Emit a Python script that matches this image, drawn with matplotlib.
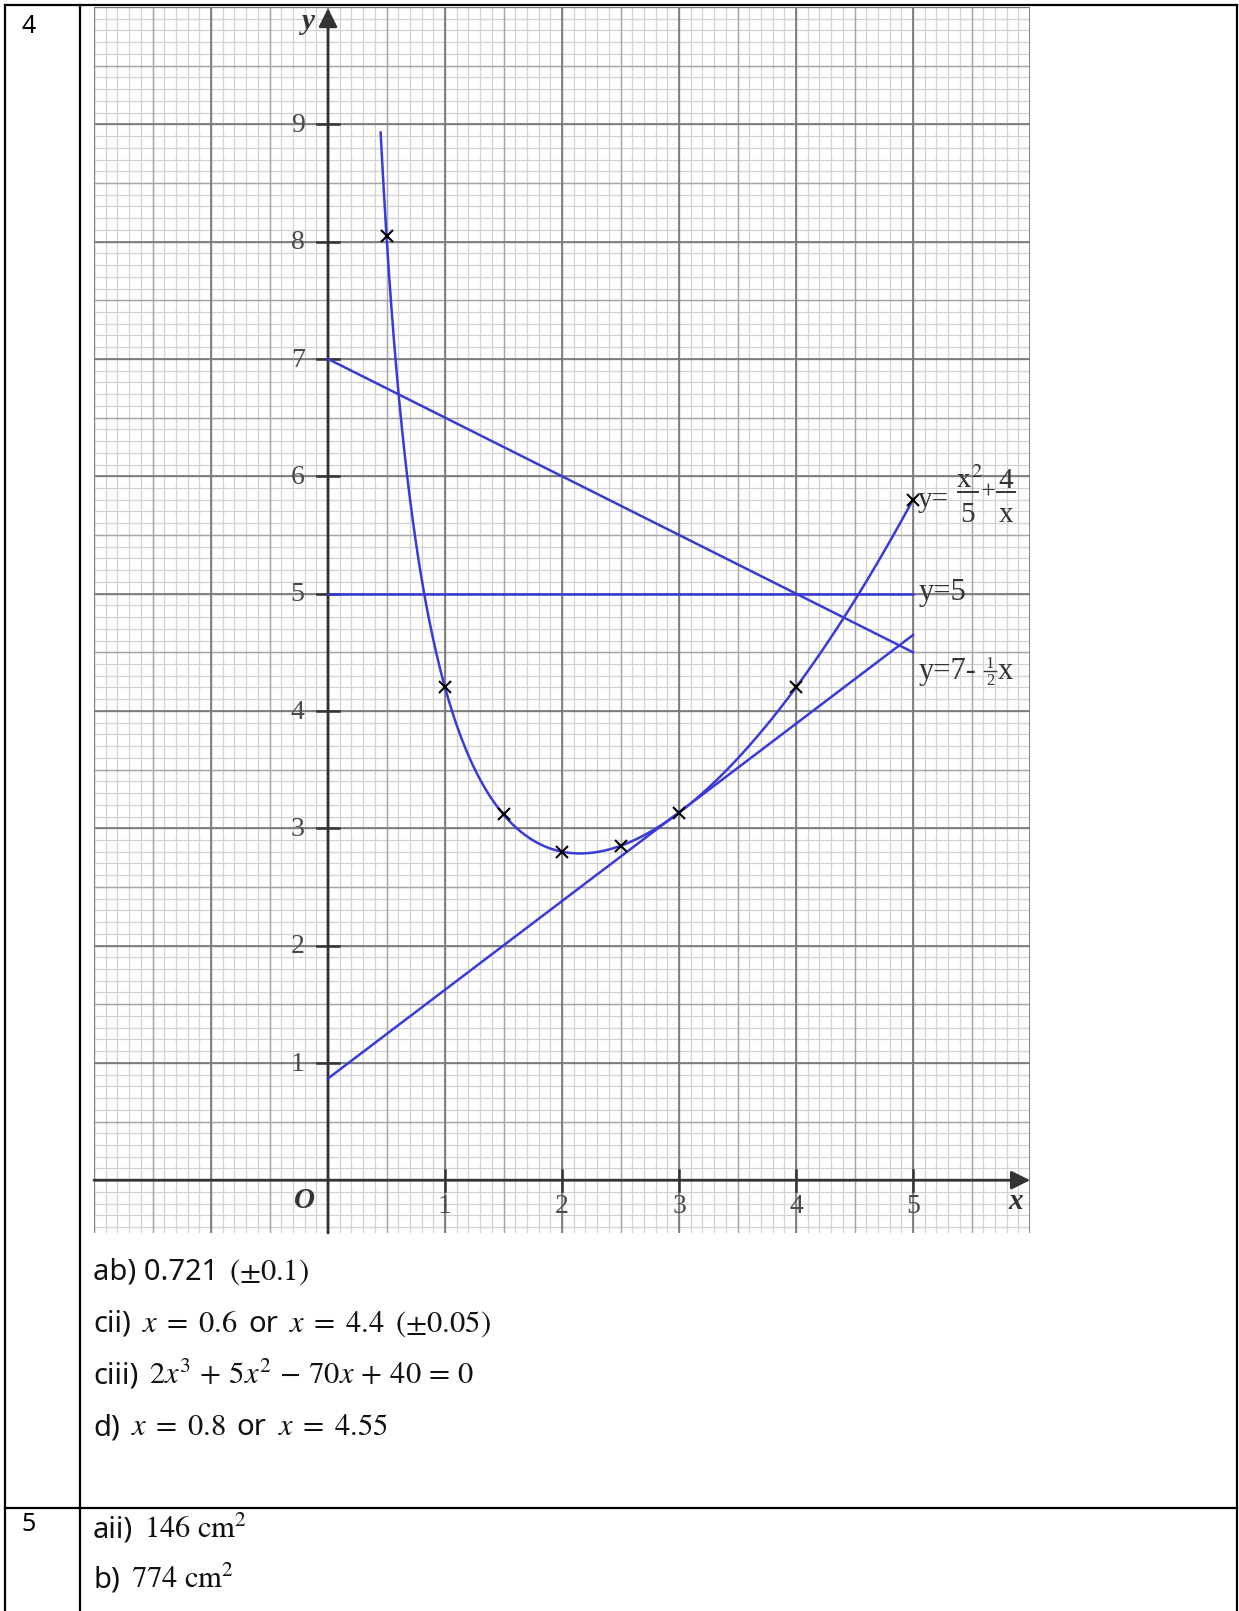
import numpy as np
import matplotlib.pyplot as plt

plt.rcParams['mathtext.fontset'] = 'stix'
plt.rcParams['font.family'] = ['Noto Sans', 'DejaVu Sans']

# plotted points of y = x^2/5 + 4/x (table of values)
pts_x = [0.5, 1, 1.5, 2, 2.5, 3, 4, 5]
pts_y = [8.05, 4.2, 3.12, 2.8, 2.85, 3.13, 4.2, 5.8]

# curve y = a*x^2 + b/x, drawn from x_start to 5
curve_a = 1 / 5
curve_b = 4
curve_x_start = 0.45

# straight lines y = m*x + c, drawn from x = 0 to 5
line_m = [0, -0.5, 0.756]
line_c = [5, 7, 0.867]
line_end = 5

x_ticks = [1, 2, 3, 4, 5]
y_ticks = [1, 2, 3, 4, 5, 6, 7, 8, 9]

# answer lines, as text segments (plain text / maths)
answers_q4 = [
    ['ab) 0.721', r'$(\pm0.1)$'],
    ['cii)', r'$x\;=\;0.6$', 'or', r'$x\;=\;4.4\;\;(\pm0.05)$'],
    ['ciii)', r'$2x^3\,+\,5x^2\,-\,70x\,+\,40\,=\,0$'],
    ['d)', r'$x\;=\;0.8$', 'or', r'$x\;=\;4.55$'],
]
answers_q5 = [
    ['aii)', r'$146\ \mathrm{cm}^2$'],
    ['b)', r'$774\ \mathrm{cm}^2$'],
]
q4_baselines = [1280, 1332, 1384, 1435]
q5_baselines = [1538, 1588]

W, H = 1239, 1611
fig = plt.figure(figsize=(W / 100, H / 100), dpi=100)
renderer = fig.canvas.get_renderer()

# page / table layer in pixel coords
bg = fig.add_axes([0, 0, 1, 1])
bg.set_xlim(0, W)
bg.set_ylim(H, 0)
bg.axis('off')
tk = dict(color='black', lw=1.6)
bg.plot([5, 5], [5, H], **tk)
bg.plot([1237, 1237], [5, H], **tk)
bg.plot([80, 80], [5, H], **tk)
bg.plot([5, 1237], [5, 5], **tk)
bg.plot([5, 1237], [1508, 1508], **tk)
bg.text(21, 33, '4', fontsize=18, va='baseline')
bg.text(21, 1531, '5', fontsize=18, va='baseline')

for lines, bases in [(answers_q4, q4_baselines), (answers_q5, q5_baselines)]:
    for segs, yb in zip(lines, bases):
        xp = 93
        for s in segs:
            fs = 22 if s.startswith('$') else 21
            t = bg.text(xp, yb, s, fontsize=fs, va='baseline', color='#111111')
            xp += t.get_window_extent(renderer).width + 11

# graph paper
x0, x1, y0, y1 = -2, 6, -0.45, 10
ax = fig.add_axes([94 / W, 1 - 1233 / H, (1030 - 94) / W, (1233 - 7) / H])
ax.set_xlim(x0, x1)
ax.set_ylim(y0, y1)
ax.axis('off')

fine_x = np.arange(-20, 61) / 10
fine_y = np.arange(-4, 101) / 10
ax.vlines(fine_x, y0, y1, color='#d2d2d2', lw=0.9, zorder=1)
ax.hlines(fine_y, x0, x1, color='#d2d2d2', lw=0.9, zorder=1)
ax.vlines(np.arange(-4, 13) / 2, y0, y1, color='#a6a6a6', lw=1.0, zorder=1)
ax.hlines(np.arange(0, 21) / 2, x0, x1, color='#a6a6a6', lw=1.0, zorder=1)
ax.vlines(np.arange(-2, 7), y0, y1, color='#767676', lw=1.2, zorder=1)
ax.hlines(np.arange(0, 11), x0, x1, color='#767676', lw=1.2, zorder=1)

# axes with arrows
axc = '#333333'
ax.annotate('', xy=(0, 9.99), xytext=(0, y0),
            arrowprops=dict(arrowstyle='-|>', lw=2, color=axc, mutation_scale=28,
                            shrinkA=0, shrinkB=0), zorder=3)
ax.annotate('', xy=(6, 0), xytext=(x0, 0),
            arrowprops=dict(arrowstyle='-|>', lw=2, color=axc, mutation_scale=28,
                            shrinkA=0, shrinkB=0), zorder=3)
for t in y_ticks:
    ax.plot([-0.09, 0.09], [t, t], color=axc, lw=1.8, zorder=3)
    ax.text(-0.2, t - 0.01, str(t), fontsize=20, family='Liberation Serif',
            color='#4a4a4a', ha='right', va='center', zorder=6)
for t in x_ticks:
    ax.plot([t, t], [-0.09, 0.09], color=axc, lw=1.8, zorder=3)
    ax.text(t, -0.22, str(t), fontsize=20, family='Liberation Serif',
            color='#4a4a4a', ha='center', va='center', zorder=6)
ax.text(-0.2, -0.17, 'O', fontsize=21, family='Liberation Serif', style='italic',
        weight='bold', color='#333333', ha='center', va='center')
ax.text(-0.17, 9.88, 'y', fontsize=21, family='Liberation Serif', style='italic',
        weight='bold', color='#333333', ha='center', va='center')
ax.text(5.88, -0.18, 'x', fontsize=21, family='Liberation Serif', style='italic',
        weight='bold', color='#333333', ha='center', va='center')

blue = '#3a3ad8'
cx = np.linspace(curve_x_start, 5, 400)
ax.plot(cx, curve_a * cx ** 2 + curve_b / cx, color=blue, lw=1.8, zorder=4)
for m, c in zip(line_m, line_c):
    ax.plot([0, line_end], [c, m * line_end + c], color=blue, lw=1.8, zorder=4)
ax.plot(pts_x, pts_y, 'x', color='black', ms=8, mew=1.5, zorder=5)

# equation labels (placed in page pixels, drawn above the grid)
lab = dict(fontsize=22, color='#333333', family='Liberation Serif',
           transform=bg.transData, zorder=6)
frac = dict(fontsize=21, color='#333333', family='Liberation Serif',
            transform=bg.transData, zorder=6)
small = dict(color='#333333', family='Liberation Serif',
             transform=bg.transData, zorder=6)
bar = dict(color='#333333', lw=1.4, transform=bg.transData, zorder=6)
ax.text(918, 507, 'y=', ha='left', va='baseline', fontsize=21, color='#333333',
        family='Liberation Serif', transform=bg.transData, zorder=6)
ax.text(969, 488, r'$\mathrm{x^2}$', ha='center', va='baseline', **frac)
ax.plot([958, 978], [492, 492], **bar)
ax.text(968, 522, '5', ha='center', va='baseline', **frac)
ax.text(988, 499, '+', ha='center', va='baseline', fontsize=19, color='#333333',
        family='Liberation Serif', transform=bg.transData, zorder=6)
ax.text(1006, 488, '4', ha='center', va='baseline', **frac)
ax.plot([997, 1015], [492, 492], **bar)
ax.text(1006, 522, 'x', ha='center', va='baseline', **frac)
ax.text(919, 600, 'y=5', ha='left', va='baseline', **lab)
ax.text(919, 679, 'y=7-', ha='left', va='baseline', **lab)
ax.text(990, 668, '1', fontsize=12, ha='center', va='baseline', **small)
ax.plot([984, 996], [671, 671], color='#333333', lw=1.0, transform=bg.transData, zorder=6)
ax.text(990, 685, '2', fontsize=12, ha='center', va='baseline', **small)
ax.text(998, 679, 'x', ha='left', va='baseline', **lab)

fig.savefig('out.png', dpi=100)
